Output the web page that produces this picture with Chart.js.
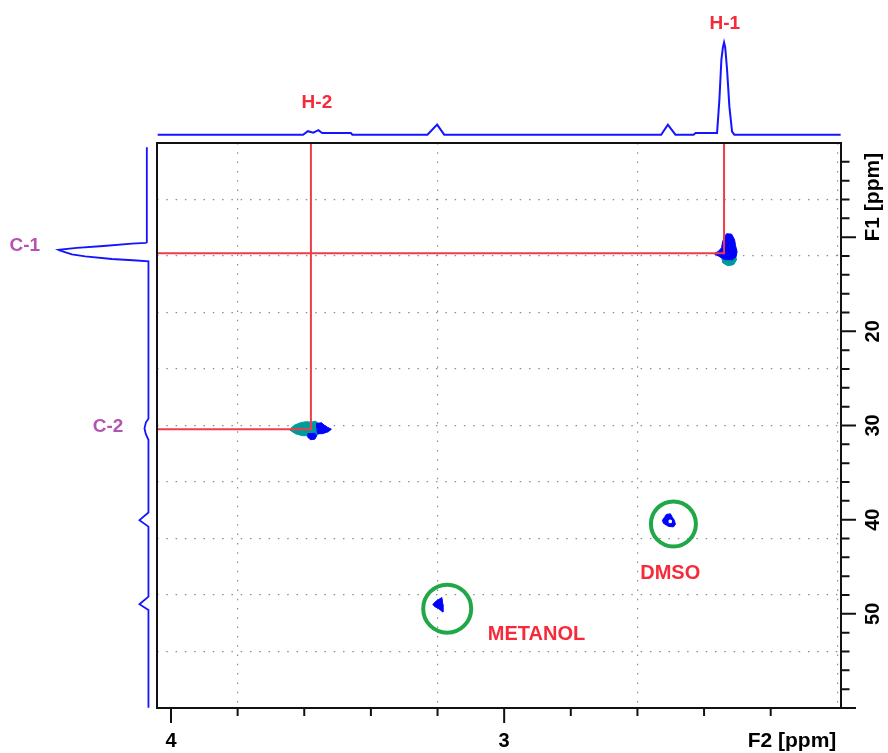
<!DOCTYPE html>
<html>
<head>
<meta charset="utf-8">
<title>HSQC</title>
<script src="https://cdn.jsdelivr.net/npm/chart.js@4/dist/chart.umd.min.js"></script>
<style>
  html, body { margin: 0; padding: 0; background: #ffffff; }
  #wrap { position: relative; width: 888px; height: 753px; overflow: hidden; }
  #wrap canvas { position: absolute; }
  #main { left: 0; top: 0; }
  #proj2 { left: 0; top: 0; }
  #proj1 { left: 0; top: 143px; }
</style>
</head>
<body>
<div id="wrap">
  <canvas id="main" width="888" height="753"></canvas>
  <canvas id="proj2" width="888" height="143"></canvas>
  <canvas id="proj1" width="157" height="565"></canvas>
</div>
<script>
// Visible spectral window (ppm)
const F2_MIN = 1.989, F2_MAX = 4.042;   // 1H
const F1_MIN = 0, F1_MAX = 60;          // 13C

// Assigned cross peaks
const assignH = ['H-1', 'H-2'];
const assignC = ['C-1', 'C-2'];
const shiftH = [2.340, 3.580];
const shiftC = [11.70, 30.40];

// Solvent signals (circled)
const solventNames = ['DMSO', 'METANOL'];
const solventH = [2.492, 3.171];
const solventC = [40.45, 49.45];

// 1H projection (F2): ppm / relative intensity
const projF2Ppm = [4.040, 3.6036, 3.5892, 3.5727, 3.5577, 3.5462, 3.4601, 3.4556, 3.2303, 3.2012, 3.1799,
                   2.5288, 2.5087, 2.4859, 2.4315, 2.4255, 2.361, 2.354, 2.348, 2.3435, 2.340, 2.3365,
                   2.331, 2.324, 2.316, 2.309, 1.990];
const projF2Int = [0, 0, 3.8, 2.2, 4.9, 1.8, 1.8, 0, 0, 10.9, 0,
                   0, 10.9, 0, 0, 1.8, 1.8, 38, 81.5, 94.6, 100, 94.6,
                   70.7, 30.4, 3.3, 0, 0];

// 13C projection (F1): ppm / relative intensity
const projF1Ppm = [0.46, 10.55, 10.61, 10.69, 10.94, 11.14, 11.35, 11.43, 11.83, 12.03, 12.32, 12.48, 12.56,
                   29.29, 29.69, 30.31, 30.93, 31.52, 39.24, 40.05, 40.74, 48.17, 48.98, 49.60, 59.97];
const projF1Int = [1.8, 1.8, 2.9, 18.4, 50, 79.6, 100, 98, 85.1, 70.3, 40.7, 12.9, 0,
                   0, 2.9, 4.4, 2.9, 0, 0, 10, 0, 0, 10, 0, 0];

// Contour outlines (F2 ppm, F1 ppm)
const h1c1TealF2 = [2.3474, 2.3054, 2.3024, 2.3114, 2.3294, 2.3444];
const h1c1TealF1 = [11.97, 11.97, 12.39, 12.92, 13.03, 12.71];
const h1c1BlueF2 = [2.3324, 2.3174, 2.3084, 2.3054, 2.3009, 2.3039, 2.3144, 2.3384, 2.3535, 2.3700, 2.3565, 2.3474, 2.3444, 2.3384];
const h1c1BlueF1 = [9.63, 9.68, 10.27, 10.91, 11.54, 12.07, 12.39, 12.39, 12.07, 11.75, 11.49, 11.12, 10.48, 9.95];
const h2c2TealF2 = [3.6447, 3.6297, 3.6117, 3.5937, 3.5787, 3.5667, 3.5547, 3.5547, 3.5727, 3.6057, 3.6267];
const h2c2TealF1 = [30.45, 29.97, 29.70, 29.59, 29.65, 29.54, 29.81, 30.87, 31.08, 31.08, 30.87];
const h2c2BlueF2 = [3.5637, 3.5487, 3.5396, 3.5306, 3.5186, 3.5276, 3.5456, 3.5607];
const h2c2BlueF1 = [29.81, 29.70, 29.97, 30.18, 30.39, 30.66, 30.87, 30.87];
const h2c2Blue2F2 = [3.5892, 3.5682, 3.5622, 3.5682, 3.5817, 3.5907];
const h2c2Blue2F1 = [30.87, 30.82, 31.08, 31.45, 31.51, 31.19];
const dmsoF2 = [2.513, 2.501, 2.495, 2.489, 2.486, 2.492, 2.507, 2.522, 2.525, 2.519];
const dmsoF1 = [39.44, 39.38, 39.76, 40.07, 40.50, 40.77, 40.71, 40.39, 40.07, 39.76];
const dmsoHoleF2 = [2.505, 2.499, 2.499, 2.505];
const dmsoHoleF1 = [40.05, 40.05, 40.32, 40.32];
const meohF2 = [3.187, 3.184, 3.184, 3.197, 3.209, 3.214, 3.206, 3.197];
const meohF1 = [48.27, 49.01, 49.81, 49.44, 49.22, 49.01, 48.69, 48.48];

// Axis ticks
const f2TickStep = 0.2;
const f2Labels = ['4', '3'];
const f2LabelValues = [4, 3];
const f1TickStep = 2;
const f1Labels = ['20', '30', '40', '50'];
const f1LabelValues = [20, 30, 40, 50];
const f2Grid = [3.8, 3.2, 2.6, 2.0];

const BLUE = '#0000ff';
const TEAL = '#009a9a';
const RED_LINE = '#ef3d4a';
const RED_TEXT = '#f72a3a';
const PURPLE = '#b453b4';
const GREEN = '#20a848';
const FONT = '"Liberation Sans", Arial, sans-serif';

function ring(xs, ys) {
  const pts = xs.map((x, i) => ({ x, y: ys[i] }));
  pts.push({ ...pts[0] });
  return pts;
}

function contour(xs, ys, color, order) {
  return {
    data: ring(xs, ys), showLine: true, fill: 'shape',
    borderColor: color, backgroundColor: color, borderWidth: 1,
    pointRadius: 0, order
  };
}

function crosshair(i) {
  return {
    data: [{ x: F2_MAX, y: shiftC[i] }, { x: shiftH[i], y: shiftC[i] }, { x: shiftH[i], y: F1_MIN }],
    showLine: true, fill: false, borderColor: RED_LINE, borderWidth: 2,
    pointRadius: 0, order: 0
  };
}

// Frame, outer ticks and axis labels of the 2D plot
const frameAxes = {
  id: 'frameAxes',
  afterDraw(chart) {
    const { ctx, chartArea: a, scales: { x, y } } = chart;
    ctx.save();
    ctx.strokeStyle = '#111';
    ctx.lineWidth = 2;
    ctx.strokeRect(a.left, a.top, a.right - a.left, a.bottom - a.top);

    ctx.beginPath();
    for (let v = 2.2; v <= 4.0001; v += f2TickStep) {
      const val = Math.round(v * 10) / 10;
      const px = x.getPixelForValue(val);
      const major = Math.abs(val - Math.round(val)) < 1e-6;
      ctx.moveTo(px, a.bottom);
      ctx.lineTo(px, a.bottom + (major ? 15 : 8));
    }
    for (let v = F1_MIN + f1TickStep; v <= F1_MAX; v += f1TickStep) {
      const py = y.getPixelForValue(v);
      const major = v % 10 === 0;
      ctx.moveTo(a.right, py);
      ctx.lineTo(a.right + (major ? 15 : 8.5), py);
    }
    ctx.stroke();

    ctx.fillStyle = '#000';
    ctx.font = 'bold 20px ' + FONT;
    ctx.textAlign = 'center';
    ctx.textBaseline = 'middle';
    f2Labels.forEach((t, i) => ctx.fillText(t, x.getPixelForValue(f2LabelValues[i]), a.bottom + 33));
    ctx.font = 'bold 21px ' + FONT;
    ctx.textAlign = 'right';
    ctx.fillText('F2 [ppm]', x.getPixelForValue(2.0) - 1, a.bottom + 33);

    ctx.font = 'bold 20px ' + FONT;
    ctx.textAlign = 'center';
    f1Labels.forEach((t, i) => {
      ctx.save();
      ctx.translate(a.right + 32, y.getPixelForValue(f1LabelValues[i]));
      ctx.rotate(-Math.PI / 2);
      ctx.fillText(t, 0, 0);
      ctx.restore();
    });
    ctx.save();
    ctx.font = 'bold 21px ' + FONT;
    ctx.translate(a.right + 32, y.getPixelForValue(5.75));
    ctx.rotate(-Math.PI / 2);
    ctx.fillText('F1 [ppm]', 0, 0);
    ctx.restore();

    // solvent names
    ctx.fillStyle = RED_TEXT;
    ctx.font = 'bold 20px ' + FONT;
    ctx.fillText(solventNames[0], x.getPixelForValue(2.5015), y.getPixelForValue(45.74));
    ctx.fillText(solventNames[1], x.getPixelForValue(2.903), y.getPixelForValue(52.18));
    ctx.restore();
  }
};

new Chart(document.getElementById('main'), {
  type: 'scatter',
  data: {
    datasets: [
      crosshair(0),
      crosshair(1),
      contour(dmsoHoleF2, dmsoHoleF1, '#ffffff', 1),
      contour(h1c1BlueF2, h1c1BlueF1, BLUE, 2),
      contour(h2c2BlueF2, h2c2BlueF1, BLUE, 2),
      contour(h2c2Blue2F2, h2c2Blue2F1, BLUE, 2),
      contour(dmsoF2, dmsoF1, BLUE, 2),
      contour(meohF2, meohF1, BLUE, 2),
      contour(h1c1TealF2, h1c1TealF1, TEAL, 3),
      contour(h2c2TealF2, h2c2TealF1, TEAL, 3),
      {
        data: solventH.map((h, i) => ({ x: h, y: solventC[i] })),
        pointRadius: [22.5, 24], pointBorderWidth: 4,
        pointBorderColor: GREEN, pointBackgroundColor: 'rgba(0,0,0,0)',
        order: 4
      }
    ]
  },
  options: {
    responsive: false, animation: false, events: [],
    layout: { padding: { left: 157, top: 143, right: 47, bottom: 45 } },
    plugins: { legend: { display: false }, tooltip: { enabled: false } },
    scales: {
      x: {
        type: 'linear', min: F2_MIN, max: F2_MAX, reverse: true,
        afterBuildTicks(scale) { scale.ticks = f2Grid.map(value => ({ value })); },
        ticks: { display: false },
        grid: { drawTicks: false, color: '#8c8c8c', lineWidth: 1.2 },
        border: { display: false, dash: [1.5, 7.8] }
      },
      y: {
        type: 'linear', min: F1_MIN, max: F1_MAX, reverse: true,
        ticks: { display: false, stepSize: 6 },
        grid: { drawTicks: false, color: '#8c8c8c', lineWidth: 1.2 },
        border: { display: false, dash: [1.5, 7.8] }
      }
    }
  },
  plugins: [frameAxes]
});

// Peak labels drawn at data positions of a projection
function labelPlugin(items, color) {
  return {
    id: 'peakLabels',
    afterDatasetsDraw(chart) {
      const { ctx, scales: { x, y } } = chart;
      ctx.save();
      ctx.fillStyle = color;
      ctx.font = 'bold 19px ' + FONT;
      ctx.textAlign = 'center';
      ctx.textBaseline = 'middle';
      items.forEach(it => ctx.fillText(it.text, x.getPixelForValue(it.x), y.getPixelForValue(it.y)));
      ctx.restore();
    }
  };
}

// 1H projection above the plot
new Chart(document.getElementById('proj2'), {
  type: 'scatter',
  data: {
    datasets: [{
      data: projF2Ppm.map((p, i) => ({ x: p, y: projF2Int[i] })),
      showLine: true, borderColor: '#1414ff', borderWidth: 2, pointRadius: 0, clip: false
    }]
  },
  options: {
    responsive: false, animation: false, events: [],
    layout: { padding: { left: 157, right: 47, top: 0, bottom: 0 } },
    plugins: { legend: { display: false }, tooltip: { enabled: false } },
    scales: {
      x: { type: 'linear', min: F2_MIN, max: F2_MAX, reverse: true, display: false },
      y: { type: 'linear', min: -9, max: 146, display: false }
    }
  },
  plugins: [labelPlugin([
    { text: assignH[0], x: 2.338, y: 120 },
    { text: assignH[1], x: 3.562, y: 35 }
  ], RED_TEXT)]
});

// 13C projection left of the plot
new Chart(document.getElementById('proj1'), {
  type: 'scatter',
  data: {
    datasets: [{
      data: projF1Ppm.map((p, i) => ({ x: projF1Int[i], y: p })),
      showLine: true, borderColor: '#1414ff', borderWidth: 1.8, pointRadius: 0, clip: false
    }]
  },
  options: {
    responsive: false, animation: false, events: [],
    layout: { padding: 0 },
    plugins: { legend: { display: false }, tooltip: { enabled: false } },
    scales: {
      x: { type: 'linear', min: -9.5, max: 165, reverse: true, display: false },
      y: { type: 'linear', min: F1_MIN, max: F1_MAX, reverse: true, display: false }
    }
  },
  plugins: [labelPlugin([
    { text: assignC[0], x: 137.5, y: 10.9 },
    { text: assignC[1], x: 45, y: 30.16 }
  ], PURPLE)]
});
</script>
</body>
</html>
